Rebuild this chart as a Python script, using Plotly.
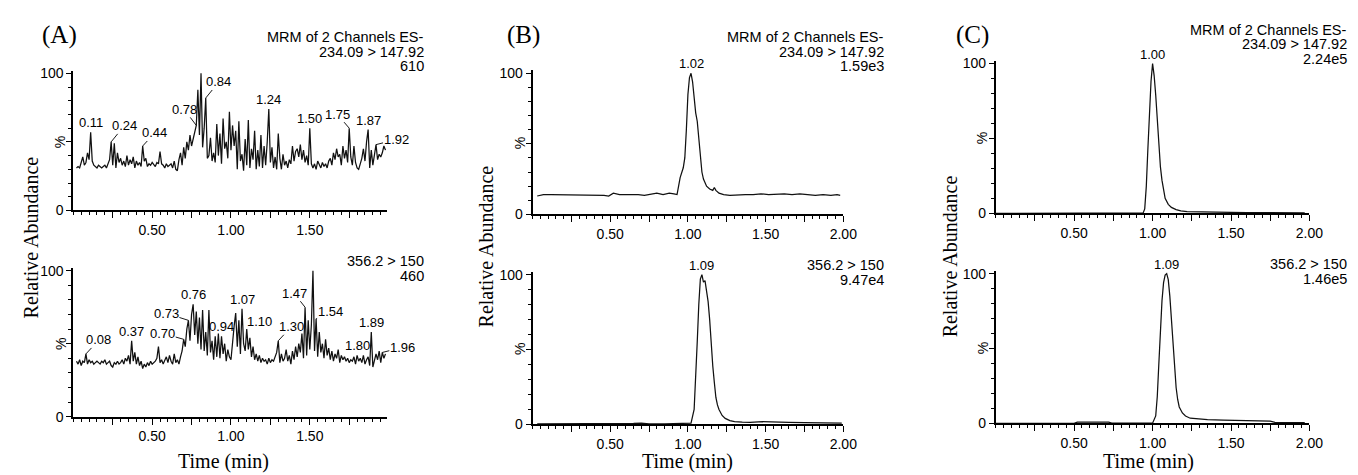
import plotly.graph_objects as go

W, H = 1358, 475

# ---------------- data ----------------
# Panel A: noisy chromatograms sampled every 0.01 min from 0.02 to 1.98 min
A_TOP = [
    31, 32, 31, 36, 39, 33, 35, 42, 37, 57,
    36, 33, 32, 31, 33, 32, 31, 32, 33, 31,
    34, 37, 50, 33, 49, 31, 42, 35, 38, 33,
    36, 32, 40, 33, 37, 34, 39, 31, 36, 33,
    35, 32, 47, 36, 38, 32, 34, 33, 35, 33,
    32, 35, 34, 43, 34, 33, 31, 34, 32, 33,
    34, 31, 36, 30, 29, 37, 42, 33, 46, 38,
    50, 44, 55, 47, 52, 58, 62, 88, 55, 100,
    46, 60, 82, 38, 40, 53, 36, 42, 35, 63,
    40, 56, 34, 67, 45, 50, 38, 72, 44, 62,
    47, 58, 30, 65, 36, 41, 29, 52, 33, 66,
    31, 45, 37, 58, 30, 44, 32, 55, 31, 47,
    33, 50, 74, 35, 46, 31, 39, 30, 56, 38,
    30, 41, 33, 36, 31, 37, 34, 47, 36, 43,
    45, 39, 48, 37, 44, 35, 40, 33, 60, 34,
    31, 34, 30, 36, 33, 31, 35, 32, 34, 31,
    36, 38, 33, 42, 37, 45, 39, 41, 33, 47,
    38, 44, 35, 60, 39, 33, 47, 35, 31, 30,
    34, 38, 45, 36, 50, 59, 31, 44, 33, 40,
    48, 37, 41, 39, 42, 47, 44,
]
A_BOT = [
    38, 36, 39, 35, 38, 37, 43, 36, 39, 37,
    38, 36, 37, 38, 37, 36, 38, 37, 39, 36,
    37, 38, 35, 34, 37, 36, 38, 36, 37, 39,
    36, 40, 38, 42, 36, 52, 38, 44, 36, 41,
    35, 38, 33, 36, 34, 37, 35, 38, 36, 37,
    38, 40, 48, 37, 39, 36, 38, 41, 37, 42,
    38, 36, 43, 37, 39, 36, 41, 45, 53, 48,
    60, 66, 52, 70, 77, 56, 72, 50, 68, 46,
    73, 45, 58, 42, 73, 44, 52, 39, 55, 41,
    57, 40, 55, 43, 50, 38, 46, 41, 39, 52,
    62, 71, 48, 66, 43, 74, 50, 45, 60, 46,
    54, 41, 48, 39, 43, 38, 42, 37, 40, 38,
    39, 36, 40, 37, 39, 38, 41, 44, 52, 37,
    43, 38, 40, 46, 38, 42, 36, 45, 39, 48,
    41, 50, 44, 57, 40, 75, 42, 66, 46, 63,
    100, 45, 67, 41, 58, 44, 50, 40, 53, 42,
    47, 39, 45, 38, 43, 40, 46, 37, 42, 39,
    41, 38, 40, 37, 39, 38, 41, 36, 42, 38,
    40, 37, 42, 36, 39, 41, 35, 58, 34, 38,
    43, 39, 45, 37, 44, 40, 43,
]
TIME_A = [round(0.02 + 0.01 * i, 2) for i in range(len(A_TOP))]

B_TOP_T = [0.03, 0.07, 0.12, 0.17, 0.22, 0.27, 0.32, 0.37, 0.42, 0.46,
           0.49, 0.52, 0.56, 0.60, 0.64, 0.68, 0.72, 0.76, 0.80, 0.84,
           0.88, 0.91, 0.93, 0.94, 0.95, 0.97, 0.98, 0.99, 1.00, 1.01,
           1.02, 1.03, 1.04, 1.05, 1.06, 1.07, 1.08, 1.09, 1.10, 1.11,
           1.12, 1.14, 1.16, 1.17, 1.18, 1.20, 1.23, 1.27, 1.32, 1.37,
           1.42, 1.47, 1.52, 1.57, 1.62, 1.67, 1.72, 1.77, 1.82, 1.87,
           1.92, 1.96, 1.98]
B_TOP_Y = [13, 14, 14, 14, 13.5, 14, 13.5, 13.5, 14, 13.5,
           13, 15, 14, 14, 14.5, 14, 13.5, 14, 15, 14,
           15, 14.5, 14, 20, 26, 33, 40, 60, 85, 97,
           100, 94, 82, 72, 66, 55, 40, 30, 25, 22,
           20, 18, 17, 19, 17, 15, 14, 13.5, 14, 14,
           14, 14.5, 14, 14.5, 14.5, 14, 14.5, 14, 13.5, 14,
           13.5, 14, 13.5]

B_BOT_T = [0.03, 0.20, 0.40, 0.55, 0.60, 0.65, 0.70, 0.75, 0.85, 0.95,
           1.02, 1.04, 1.05, 1.06, 1.07, 1.08, 1.09, 1.10, 1.11, 1.12,
           1.13, 1.14, 1.15, 1.16, 1.17, 1.18, 1.19, 1.20, 1.22, 1.24,
           1.27, 1.30, 1.35, 1.40, 1.48, 1.55, 1.65, 1.75, 1.85, 1.95,
           1.99]
B_BOT_Y = [0.3, 0.3, 0.3, 0.4, 0.8, 0.7, 0.9, 0.4, 0.3, 0.3,
           0.8, 10, 30, 55, 80, 97, 100, 95, 96, 90,
           82, 70, 52, 39, 28, 18, 13, 10, 6, 4,
           2.5, 1.8, 1.5, 1.4, 1.8, 1.4, 1.3, 1.2, 1.0, 1.1,
           0.9]

C_TOP_T = [0.00, 0.30, 0.60, 0.70, 0.75, 0.83, 0.90, 0.94, 0.95, 0.96,
           0.97, 0.98, 0.99, 1.00, 1.01, 1.02, 1.03, 1.04, 1.05, 1.06,
           1.07, 1.08, 1.10, 1.12, 1.15, 1.18, 1.22, 1.30, 1.40, 1.50,
           1.60, 1.70, 1.80, 1.90, 1.97]
C_TOP_Y = [0, 0, 0, 0.4, 0, 0.4, 0, 0.3, 3, 18,
           43, 68, 88, 100, 92, 79, 62, 45, 31, 22,
           15, 10, 6, 4, 2.5, 1.7, 1.2, 0.9, 0.8, 0.6,
           0.5, 0.5, 0.4, 0.4, 0.4]

C_BOT_T = [0.00, 0.25, 0.50, 0.52, 0.72, 0.74, 0.90, 1.00, 1.02, 1.03,
           1.04, 1.05, 1.06, 1.07, 1.08, 1.09, 1.10, 1.11, 1.12, 1.13,
           1.14, 1.15, 1.16, 1.17, 1.19, 1.21, 1.24, 1.28, 1.35, 1.45,
           1.55, 1.65, 1.75, 1.78, 1.90, 1.97]
C_BOT_Y = [0, 0, 0, 0.8, 0.8, 0.2, 0, 0.2, 5, 18,
           40, 62, 82, 94, 99, 100, 96, 85, 68, 50,
           35, 24, 16, 11, 7, 5, 3.5, 3, 2.5, 2.2,
           2.0, 1.8, 1.6, 0.7, 0.6, 0.5]

# Peak labels (retention times) per subplot
A_TOP_PEAKS = [0.11, 0.24, 0.44, 0.78, 0.84, 1.24, 1.50, 1.75, 1.87, 1.92]
A_BOT_PEAKS = [0.08, 0.37, 0.70, 0.73, 0.76, 0.94, 1.07, 1.10, 1.30, 1.47, 1.54, 1.80, 1.89, 1.96]
B_TOP_PEAKS = [1.02]
B_BOT_PEAKS = [1.09]
C_TOP_PEAKS = [1.00]
C_BOT_PEAKS = [1.09]

HEADER_TOP = ["MRM of 2 Channels ES-", "234.09 > 147.92"]
HEADER_BOT = ["356.2 > 150"]
INTENSITY_TOP = ["610", "1.59e3", "2.24e5"]
INTENSITY_BOT = ["460", "9.47e4", "1.46e5"]
PANEL_LETTERS = ["(A)", "(B)", "(C)"]

# label offsets in pixels (dx, dy) from the peak; None = label right above peak
A_TOP_OFFS = [None, (13, -16), (12, -13), (-12, -16), (13, -16), None, None, (-12, -14), None, (20, -5)]
A_BOT_OFFS = [(13, -14), None, (-21, -6), (-22, -7), None, None, None, (13, -8), (13, -14),
              (-11, -14), (14, -7), None, None, (20, -5)]

# ---------------- layout geometry (pixels) ----------------
SANS = "Liberation Sans, Arial, sans-serif"
SERIF = "Liberation Serif, Times New Roman, serif"
LINE = "#111111"
YMAX = 102

# (x_left, x_right, y100_px, y0_px, xmax)
GEOM = [
    (66, 383, 62, 203, 1.99),
    (66, 383, 265, 415, 1.99),
    (530, 844, 62, 207, 2.0),
    (530, 844, 269, 423, 2.0),
    (998, 1315, 52, 206, 2.0),
    (998, 1315, 268, 422, 2.0),
]

def px(xp):
    return xp / W

def py(yp):
    return 1 - yp / H

SERIES = [
    (TIME_A, A_TOP, A_TOP_PEAKS, A_TOP_OFFS),
    (TIME_A, A_BOT, A_BOT_PEAKS, A_BOT_OFFS),
    (B_TOP_T, B_TOP_Y, B_TOP_PEAKS, [None]),
    (B_BOT_T, B_BOT_Y, B_BOT_PEAKS, [None]),
    (C_TOP_T, C_TOP_Y, C_TOP_PEAKS, [None]),
    (C_BOT_T, C_BOT_Y, C_BOT_PEAKS, [None]),
]

fig = go.Figure()
layout = dict(
    width=W, height=H, margin=dict(l=0, r=0, t=0, b=0),
    paper_bgcolor="white", plot_bgcolor="white", showlegend=False,
    font=dict(family=SANS, color="black", size=14),
)
annotations = []

def value_at(ts, ys, t):
    best = min(range(len(ts)), key=lambda i: abs(ts[i] - t))
    return ys[best]

for i, (g, (ts, ys, peaks, offs)) in enumerate(zip(GEOM, SERIES)):
    n = i + 1
    xl, xr, y100, y0, xmax = g
    top_px = y100 - (YMAX - 100) / 100 * (y0 - y100)
    xname = "x" if n == 1 else f"x{n}"
    yname = "y" if n == 1 else f"y{n}"
    fig.add_trace(go.Scatter(x=ts, y=ys, mode="lines", xaxis=xname, yaxis=yname,
                             line=dict(color=LINE, width=1.25), hoverinfo="skip"))
    xt = [0.25, 0.5, 0.75, 1.0, 1.25, 1.5, 1.75] + ([2.0] if xmax >= 2.0 else [])
    xtt = ["" if abs((v * 2) - round(v * 2)) > 1e-9 else f"{v:.2f}" for v in xt]
    layout[f"xaxis{n if n > 1 else ''}"] = dict(
        domain=[px(xl), px(xr)], anchor=yname, range=[0, xmax],
        showline=True, linecolor="black", linewidth=1.8, showgrid=False, zeroline=False,
        ticks="outside", ticklen=6, tickwidth=1.2, tickcolor="black",
        tickvals=xt, ticktext=xtt, tickfont=dict(family=SANS, size=14, color="black"),
        minor=dict(dtick=0.05, tick0=0, ticks="outside", ticklen=3, tickwidth=1.1, tickcolor="black"),
        fixedrange=True,
    )
    layout[f"yaxis{n if n > 1 else ''}"] = dict(
        domain=[py(y0), py(top_px)], anchor=xname, range=[0, YMAX],
        showline=True, linecolor="black", linewidth=1.8, showgrid=False, zeroline=False,
        ticks="outside", ticklen=5, tickwidth=1.2, tickcolor="black",
        tickvals=[0, 50, 100], ticktext=["0", "", "100"],
        tickfont=dict(family=SANS, size=14, color="black"),
        minor=dict(dtick=10, tick0=0, ticks="outside", ticklen=3, tickwidth=1.1, tickcolor="black"),
        fixedrange=True,
    )
    # rotated % at 50
    annotations.append(dict(text="%", xref=f"{xname} domain", yref=yname, x=0, y=50,
                            xanchor="center", yanchor="middle", xshift=-13, textangle=-90,
                            showarrow=False, font=dict(family=SANS, size=14, color="black")))
    # peak labels
    for t, off in zip(peaks, offs):
        v = value_at(ts, ys, t)
        if off is None:
            annotations.append(dict(text=f"{t:.2f}", xref=xname, yref=yname, x=t, y=v,
                                    xanchor="center", yanchor="bottom", showarrow=False,
                                    yshift=0, font=dict(family=SANS, size=13, color="black")))
        else:
            annotations.append(dict(text=f"{t:.2f}", xref=xname, yref=yname, x=t, y=v,
                                    ax=off[0], ay=off[1], showarrow=True, arrowhead=0,
                                    arrowwidth=0.9, arrowcolor="black", standoff=0,
                                    borderpad=0,
                                    font=dict(family=SANS, size=13, color="black")))

# headers (right-aligned text blocks)
HDR_RIGHT = [422, 887, 1355]
HDR_TOP_Y = [25, 25, 17]
HDR_BOT_Y = [255, 259, 258]
for k in range(3):
    lines_top = HEADER_TOP + [INTENSITY_TOP[k]]
    for j, s in enumerate(lines_top):
        annotations.append(dict(text=s, xref="paper", yref="paper", x=px(HDR_RIGHT[k]),
                                y=py(HDR_TOP_Y[k] + 15 * j), xanchor="right", yanchor="middle",
                                showarrow=False, font=dict(family=SANS, size=14.5, color="black")))
    lines_bot = HEADER_BOT + [INTENSITY_BOT[k]]
    for j, s in enumerate(lines_bot):
        annotations.append(dict(text=s, xref="paper", yref="paper", x=px(HDR_RIGHT[k]),
                                y=py(HDR_BOT_Y[k] + 15 * j), xanchor="right", yanchor="middle",
                                showarrow=False, font=dict(family=SANS, size=14.5, color="black")))

# panel letters
LETTER_POS = [(52, 23), (521, 23), (975, 23)]
for s, (lx, ly) in zip(PANEL_LETTERS, LETTER_POS):
    annotations.append(dict(text=s, xref="paper", yref="paper", x=px(lx), y=py(ly),
                            xanchor="center", yanchor="middle", showarrow=False,
                            font=dict(family=SERIF, size=25, color="black")))

# axis titles
RA_POS = [(23, 231), (483, 240), (952, 250)]
for lx, ly in RA_POS:
    annotations.append(dict(text="Relative Abundance", xref="paper", yref="paper",
                            x=px(lx), y=py(ly), xanchor="center", yanchor="middle",
                            textangle=-90, showarrow=False,
                            font=dict(family=SERIF, size=20, color="black")))
TM_X = [218, 687, 1152]
for lx in TM_X:
    annotations.append(dict(text="Time (min)", xref="paper", yref="paper",
                            x=px(lx), y=0, xanchor="center", yanchor="bottom",
                            showarrow=False, font=dict(family=SERIF, size=20, color="black")))

layout["annotations"] = annotations
fig.update_layout(**layout)
fig.write_html("out.html")
